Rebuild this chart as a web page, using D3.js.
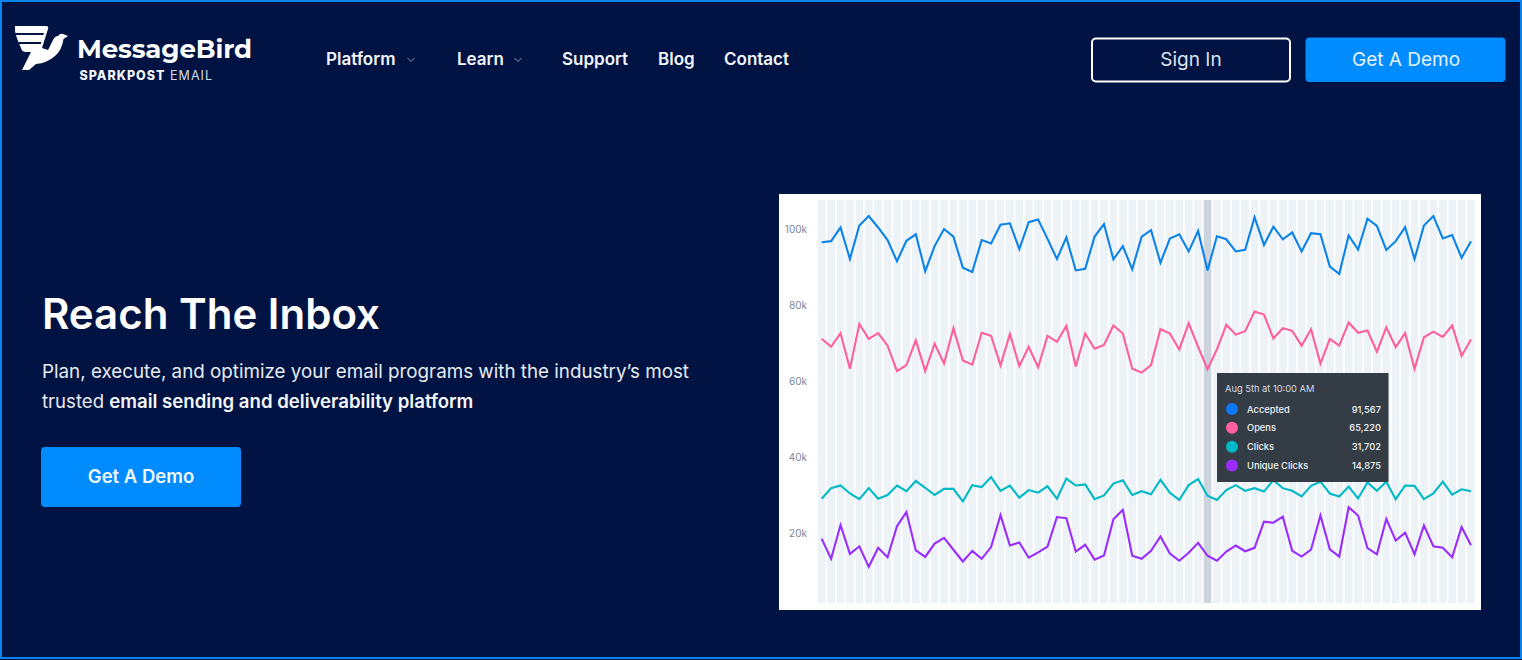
<!DOCTYPE html>
<html>
<head>
<meta charset="utf-8">
<script src="https://d3js.org/d3.v7.min.js"></script>
<style>
  html, body { margin: 0; padding: 0; background: #001343; overflow: hidden; }
  svg { display: block; font-family: Inter, "Noto Sans", sans-serif; }
</style>
</head>
<body>
<svg id="page" width="1522" height="660"></svg>
<script>
// values in thousands
const accepted = [96.5,96.8,100.4,92.1,100.9,103.4,100.4,97.1,91.5,96.9,98.6,88.9,95.5,100,98.0,89.8,88.7,97.1,96.2,101.1,
  101.5,94.7,101.8,102.5,97.4,92.1,97.8,89.1,89.5,98.0,101.3,92.0,95.5,89.4,98.0,99.7,91.1,97.5,98.6,94.1,
  99.5,89.1,98.1,97.3,94.1,94.5,103.1,95.8,100.6,97.3,99.1,94.1,98.9,98.6,90.1,88.2,98.3,94.6,102.7,100.8,
  94.5,96.8,100.5,92.1,100.9,103.4,97.5,98.4,92.4,96.8];
const opens = [71.1,69.0,72.6,63.2,75.0,71.1,72.6,69.3,62.6,64.2,70.7,62.6,69.8,64.6,73.9,65.4,64.3,72.7,71.9,64.1,
  72.4,63.9,69.0,63.6,71.9,70.3,74.5,63.8,72.5,68.5,69.5,74.6,72.5,63.2,62.2,64.2,73.7,72.5,68.3,75.2,
  69.0,63.1,68.3,74.8,72.2,73.1,78.3,77.5,71.2,73.9,73.2,69.3,73.6,64.6,71.1,69.3,75.4,72.7,73.3,67.7,
  74.1,68.9,72.6,63.2,71.5,73.0,71.6,74.6,66.6,70.9];
const clicks = [29.0,31.8,32.5,30.4,28.9,31.8,29.0,30.0,32.5,31.0,33.7,31.9,30.0,31.6,31.6,28.3,32.6,32.1,34.7,31.1,
  32.5,29.3,31.3,30.6,32.3,29.0,34.3,32.5,32.8,28.9,29.9,33.0,33.9,30.0,31.0,30.2,34.0,30.6,28.7,32.6,
  34.2,29.8,28.7,31.3,32.6,31.1,31.8,30.9,33.9,31.8,31.1,29.6,32.4,33.5,30.4,29.6,32.2,29.1,33.3,31.1,
  33.5,28.9,32.5,32.4,28.9,30.4,33.5,30.1,31.5,31.0];
const uniqueClicks = [18.5,13.2,22.1,14.5,16.5,11.1,16.1,13.6,21.8,25.5,15.4,13.7,17.2,18.7,15.6,12.5,15.3,13.2,16.3,24.7,
  16.7,17.5,13.5,14.9,16.4,24.2,23.9,15.1,16.9,13.0,14.1,23.6,26.1,14.0,13.2,15.3,19.1,14.6,12.7,14.8,
  17.4,14.0,12.7,15.1,16.7,15.2,16.1,23.0,22.7,24.3,15.3,13.8,15.6,24.6,15.7,13.8,26.8,24.6,16.0,14.4,
  23.7,18.0,20.1,14.4,22.0,16.5,16.1,13.6,21.6,16.8];

const seriesNames = ['Accepted', 'Opens', 'Clicks', 'Unique Clicks'];
const seriesColors = ['#0b83e8', '#ff5f9e', '#00b9c6', '#9a2cff'];
const dotColors = ['#0a78f5', '#ff5f9e', '#00b9c6', '#9a2cff'];
const tooltipValues = ['91,567', '65,220', '31,702', '14,875'];
const tooltipTitle = 'Aug 5th at 10:00 AM';
const yTicks = [20, 40, 60, 80, 100];
const hoverIndex = 41;
const navItems = [
  { label: 'Platform', x: 326, caret: 411 },
  { label: 'Learn', x: 457, caret: 518 },
  { label: 'Support', x: 562 },
  { label: 'Blog', x: 658 },
  { label: 'Contact', x: 724 }
];

const svg = d3.select('#page');
const bg = '#001343';
const blue = '#008cff';

function roundBox(x, y, w, h, fill) {
  return svg.append('rect').attr('x', x).attr('y', y).attr('width', w).attr('height', h)
    .attr('rx', 4).attr('fill', fill);
}

function label(parent, x, y, str, size, weight, fill, anchor) {
  return parent.append('text').attr('x', x).attr('y', y).text(str)
    .attr('font-size', size).attr('font-weight', weight).attr('fill', fill)
    .attr('text-anchor', anchor || 'start');
}

// page frame
svg.append('rect').attr('x', 1).attr('y', 1).attr('width', 1520).attr('height', 657)
  .attr('fill', bg).attr('stroke', '#0a84ee').attr('stroke-width', 2);

// logo
svg.append('path').attr('fill', '#fff')
  .attr('d', 'M15,26 L46,26 Q49,26 48,29 L42,48 L48,50 L53,40 Q55,36 58,36 Q60,33 63,34 L68,36 L63.5,39 Q62,50 55,56 Q47,63 36,64 L29,70 L22,70 L31,52 L26,52 Q22,52 21,48 L18,41 Q16,36 15,31 Z');
svg.append('path').attr('fill', bg).attr('d', 'M15,33 L44,33 L43.3,35 L15.6,35 Z');
svg.append('path').attr('fill', bg).attr('d', 'M18,42 L41.3,42 L40.7,44 L18.8,44 Z');
label(svg, 77, 58, 'MessageBird', 26, 700, '#fff').attr('font-family', 'Montserrat, Lato, Inter, sans-serif').attr('textLength', 175);
label(svg, 79.5, 80, 'SPARKPOST', 12.5, 800, '#f4f5f9').attr('textLength', 85);
label(svg, 170, 80, 'EMAIL', 12.5, 400, '#d5d9e4').attr('textLength', 42);

// nav
navItems.forEach(d => {
  label(svg, d.x, 65, d.label, 17, 600, '#f2f4f9');
  if (d.caret) {
    svg.append('path').attr('fill', 'none').attr('stroke', '#8a93ad').attr('stroke-width', 1)
      .attr('d', `M${d.caret - 3.5},58 l3.5,3.5 l3.5,-3.5`);
  }
});

// header buttons
svg.append('rect').attr('x', 1092).attr('y', 38.5).attr('width', 198).attr('height', 43).attr('rx', 4)
  .attr('fill', 'none').attr('stroke', '#fff').attr('stroke-width', 2);
label(svg, 1191, 66, 'Sign In', 19, 400, '#dfe3ee', 'middle');
roundBox(1305.5, 37.5, 200, 44.5, blue);
label(svg, 1406, 66, 'Get A Demo', 19, 400, '#e6f1ff', 'middle');

// hero
label(svg, 42, 329, 'Reach The Inbox', 42, 600, '#fff');
label(svg, 42, 378, 'Plan, execute, and optimize your email programs with the industry\u2019s most', 18.8, 400, '#e8ebf2');
const line2 = label(svg, 42, 408, 'trusted ', 18.6, 400, '#e8ebf2');
line2.append('tspan').attr('font-weight', 600).attr('fill', '#f4f6fa').text('email sending and deliverability platform');
roundBox(41, 447, 200, 60, blue);
label(svg, 141, 483, 'Get A Demo', 18.5, 600, '#f2f8ff', 'middle');

// chart card
svg.append('rect').attr('x', 779).attr('y', 194).attr('width', 702).attr('height', 416).attr('fill', '#fff');

const x = d3.scaleBand().domain(d3.range(accepted.length)).range([817, 1475.7]).paddingInner(0.18).paddingOuter(0.09);
const y = d3.scaleLinear().domain([20, 100]).range([533, 229]);
const cx = i => x(i) + x.bandwidth() / 2;

svg.append('g').selectAll('rect').data(d3.range(accepted.length)).join('rect')
  .attr('x', d => x(d)).attr('y', 200).attr('width', x.bandwidth()).attr('height', 403)
  .attr('fill', d => d === hoverIndex ? '#cbd3dd' : '#edf2f7');

const yAxis = svg.append('g').attr('transform', 'translate(807,0.5)')
  .call(d3.axisLeft(y).tickValues(yTicks).tickSize(0).tickPadding(0).tickFormat(d => d + 'k'));
yAxis.select('.domain').remove();
yAxis.selectAll('text').attr('fill', '#7c8798').attr('font-size', 10).attr('font-family', 'Inter, sans-serif');

const line = d3.line().x((d, i) => cx(i)).y(d => y(d));
[accepted, opens, clicks, uniqueClicks].forEach((vals, k) => {
  svg.append('path').datum(vals).attr('d', line).attr('fill', 'none')
    .attr('stroke', seriesColors[k]).attr('stroke-width', 2.1).attr('stroke-linejoin', 'miter');
});

// tooltip
const tip = svg.append('g').attr('transform', 'translate(1217,373)');
tip.append('rect').attr('width', 171.5).attr('height', 109).attr('fill', '#343c46');
label(tip, 8, 18.5, tooltipTitle, 9.3, 400, '#d9dde3');
const rowY = d3.scalePoint().domain(seriesNames).range([36, 92.5]);
seriesNames.forEach((name, k) => {
  const yy = rowY(name);
  tip.append('circle').attr('cx', 15).attr('cy', yy).attr('r', 6).attr('fill', dotColors[k]);
  label(tip, 30, yy + 3.5, name, 9.3, 500, '#f1f3f5');
  label(tip, 164, yy + 3.5, tooltipValues[k], 9.3, 500, '#f1f3f5', 'end');
});
</script>
</body>
</html>
